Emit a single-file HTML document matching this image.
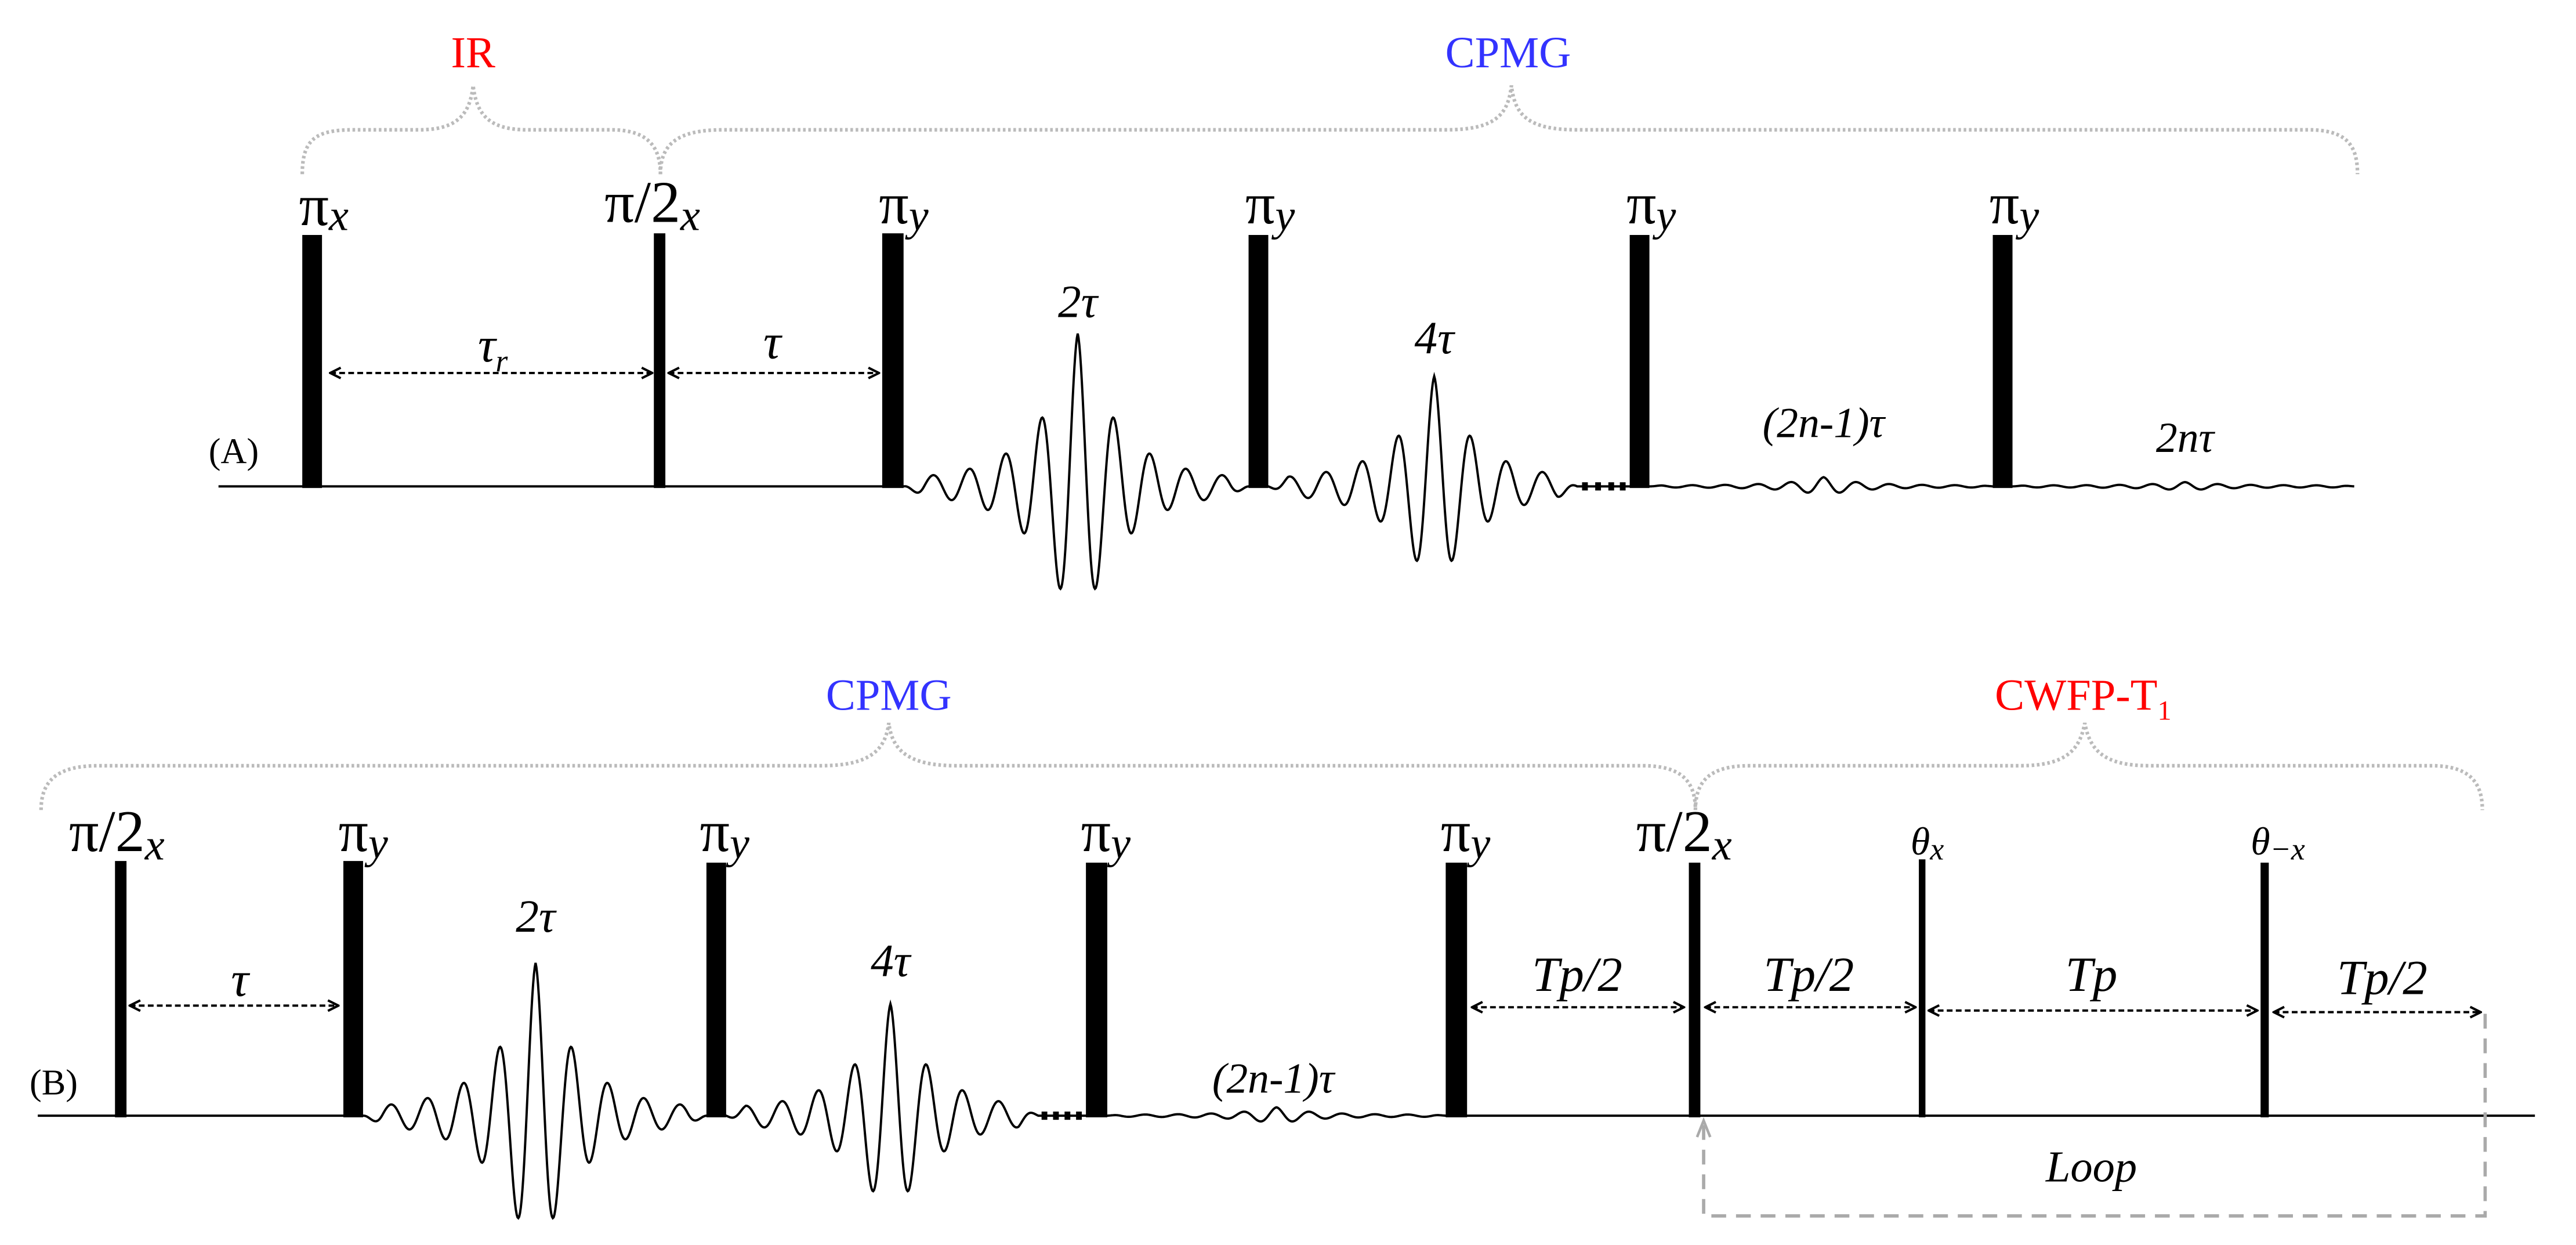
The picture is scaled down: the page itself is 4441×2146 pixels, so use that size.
<!DOCTYPE html>
<html><head><meta charset="utf-8"><style>
html,body{margin:0;padding:0;background:#fff;}
svg{display:block;}
.t{font-family:"Liberation Serif",serif;}
.i{font-family:"Liberation Serif",serif;font-style:italic;}
</style></head><body>
<svg id="s" width="4441" height="2146" viewBox="0 0 1568 757.7" preserveAspectRatio="none" xmlns="http://www.w3.org/2000/svg">
<defs>
<marker id="ah" viewBox="0 0 10 10" refX="9" refY="5" markerWidth="8" markerHeight="8" orient="auto-start-reverse" markerUnits="userSpaceOnUse">
<path d="M1,1 L9,5 L1,9" fill="none" stroke="#000" stroke-width="1.8"/>
</marker>
</defs>
<g fill="none" stroke="#bbb" stroke-width="2.2" stroke-dasharray="1.6 1.6">
<path d="M184,106 C184,85 192,79 215,79 L255,79 C278,79 286,70 288,52 C290,70 298,79 321,79 L372,79 C395,79 402,90 402,106"/>
<path d="M402,106 C402,88 412,79 440,79 L880,79 C910,79 918,70 920,52 C922,70 930,79 960,79 L1405,79 C1428,79 1435,88 1435,106"/>
<path d="M25,493 C25,475 35,466 60,466 L500,466 C530,466 539,456 541,440 C543,456 552,466 582,466 L1000,466 C1024,466 1032,476 1032,493"/>
<path d="M1032,493 C1032,476 1040,466 1065,466 L1230,466 C1258,466 1266,456 1269,440 C1272,456 1280,466 1308,466 L1480,466 C1503,466 1511,476 1511,493"/>
</g>
<g class="t" font-size="27" text-anchor="middle">
<text x="288" y="41" fill="#f00">IR</text>
<text x="918" y="41" fill="#33f">CPMG</text>
<text x="541" y="432" fill="#33f">CPMG</text>
<text x="1268" y="432" fill="#f00">CWFP-T<tspan font-size="17" dy="6">1</tspan></text>
</g>
<g stroke="#000" stroke-width="1.4" fill="none">
<path id="wa" d=""/>
<path id="wb" d=""/>
</g>
<g fill="#000">
<rect x="184" y="143" width="12" height="154"/>
<rect x="398" y="142" width="7" height="155"/>
<rect x="537" y="142" width="13" height="155"/>
<rect x="760" y="143" width="12" height="154"/>
<rect x="992" y="143" width="12" height="154"/>
<rect x="1213" y="143" width="12" height="154"/>
<rect x="70" y="524" width="7" height="156"/>
<rect x="209" y="524" width="12" height="156"/>
<rect x="430" y="525" width="12" height="155"/>
<rect x="661" y="525" width="13" height="155"/>
<rect x="880" y="525" width="13" height="155"/>
<rect x="1028" y="525" width="7" height="155"/>
<rect x="1168" y="523" width="4" height="157"/>
<rect x="1376" y="525" width="5" height="155"/>
<rect x="963" y="293.5" width="3.5" height="5"/><rect x="971" y="293.5" width="3.5" height="5"/><rect x="979" y="293.5" width="3.5" height="5"/><rect x="986" y="293.5" width="3.5" height="5"/>
<rect x="634" y="676.5" width="3.5" height="5"/><rect x="641" y="676.5" width="3.5" height="5"/><rect x="648" y="676.5" width="3.5" height="5"/><rect x="655" y="676.5" width="3.5" height="5"/>
</g>
<g class="t" font-size="36">
<text x="182" y="137">π<tspan class="i" font-size="27" dy="3">x</tspan></text>
<text x="368" y="135">π/2<tspan class="i" font-size="27" dy="5">x</tspan></text>
<text x="535" y="136">π<tspan class="i" font-size="27" dy="4">y</tspan></text>
<text x="758" y="136">π<tspan class="i" font-size="27" dy="4">y</tspan></text>
<text x="990" y="136">π<tspan class="i" font-size="27" dy="4">y</tspan></text>
<text x="1211" y="136">π<tspan class="i" font-size="27" dy="4">y</tspan></text>
<text x="42" y="518">π/2<tspan class="i" font-size="27" dy="5">x</tspan></text>
<text x="206" y="518">π<tspan class="i" font-size="27" dy="4">y</tspan></text>
<text x="426" y="518">π<tspan class="i" font-size="27" dy="4">y</tspan></text>
<text x="658" y="518">π<tspan class="i" font-size="27" dy="4">y</tspan></text>
<text x="877" y="518">π<tspan class="i" font-size="27" dy="4">y</tspan></text>
<text x="996" y="518">π/2<tspan class="i" font-size="27" dy="5">x</tspan></text>
</g>
<g class="i" font-size="24">
<text x="1163" y="520">θ<tspan font-size="19" dy="3">x</tspan></text>
<text x="1370" y="520">θ<tspan font-size="19" dy="3">−x</tspan></text>
</g>
<g stroke="#000" stroke-width="1.4" stroke-dasharray="3.5 2" marker-start="url(#ah)" marker-end="url(#ah)">
<line x1="201" y1="227" x2="397" y2="227"/>
<line x1="407" y1="227" x2="535" y2="227"/>
<line x1="79" y1="612" x2="206" y2="612"/>
<line x1="896" y1="613" x2="1025" y2="613"/>
<line x1="1038" y1="613" x2="1166" y2="613"/>
<line x1="1174" y1="615" x2="1374" y2="615"/>
<line x1="1384" y1="616" x2="1510" y2="616"/>
</g>
<g class="i" text-anchor="middle">
<text x="300" y="220" font-size="30">τ<tspan font-size="19" dy="6">r</tspan></text>
<text x="470" y="218" font-size="30">τ</text>
<text x="656" y="193" font-size="28">2τ</text>
<text x="873" y="215" font-size="28">4τ</text>
<text x="1110" y="266" font-size="26">(2n-1)τ</text>
<text x="1330" y="275" font-size="26">2nτ</text>
<text x="146" y="606" font-size="30">τ</text>
<text x="326" y="567" font-size="28">2τ</text>
<text x="542" y="594" font-size="28">4τ</text>
<text x="775" y="665" font-size="26">(2n-1)τ</text>
<text x="960" y="603" font-size="30">Tp/2</text>
<text x="1101" y="603" font-size="30">Tp/2</text>
<text x="1273" y="603" font-size="30">Tp</text>
<text x="1450" y="605" font-size="30">Tp/2</text>
<text x="1273" y="719" font-size="27">Loop</text>
</g>
<g class="t" font-size="22">
<text x="127" y="282">(A)</text>
<text x="18" y="666">(B)</text>
</g>
<path d="M1512.7,617 L1512.7,740 L1037,740 L1037,683" fill="none" stroke="#aaa" stroke-width="2" stroke-dasharray="9 6"/>
<path d="M1033,692 L1037,682 L1041,692" fill="none" stroke="#aaa" stroke-width="1.6"/>
</svg>
<script>
function echo(x,c,A,w){var d=x-c;var e=Math.exp(-Math.abs(d)/25.5);var v=-A*e*Math.cos(2*Math.PI*d/22);var edge=Math.min(1,(x-w[0])/12,(w[1]-x)/12);if(edge<0)edge=0;v+= -4*Math.cos(2*Math.PI*d/22)*(1-e);return v*edge;}
function wig(x,c,a,w){var d=x-c;var e=Math.exp(-Math.abs(d)/22);var edge=Math.min(1,(x-w[0])/8,(w[1]-x)/8);if(edge<0)edge=0;return -(a*e+0.6)*Math.cos(2*Math.PI*d/20)*edge;}
function build(base,x0,x1,segs){var s="M"+x0+","+base;for(var x=x0;x<=x1;x+=0.5){var y=0;for(var i=0;i<segs.length;i++){var g=segs[i];if(x>=g.w[0]&&x<=g.w[1]){y=g.f(x);}}s+=" L"+x.toFixed(1)+","+(base+y).toFixed(2);}return s;}
document.getElementById("wa").setAttribute("d",build(296,133,1433,[
{w:[550,760],f:function(x){return echo(x,656,93,[550,760]);}},
{w:[772,960],f:function(x){return echo(x,873,67,[772,960]);}},
{w:[1004,1213],f:function(x){return wig(x,1110,5,[1004,1213]);}},
{w:[1225,1433],f:function(x){return wig(x,1330,2,[1225,1433]);}}
]));
document.getElementById("wb").setAttribute("d",build(679,23,1543,[
{w:[221,430],f:function(x){return echo(x,326,93,[221,430]);}},
{w:[442,632],f:function(x){return echo(x,542,68,[442,632]);}},
{w:[674,880],f:function(x){return wig(x,777,4.5,[674,880]);}}
]));
</script>
</body></html>
